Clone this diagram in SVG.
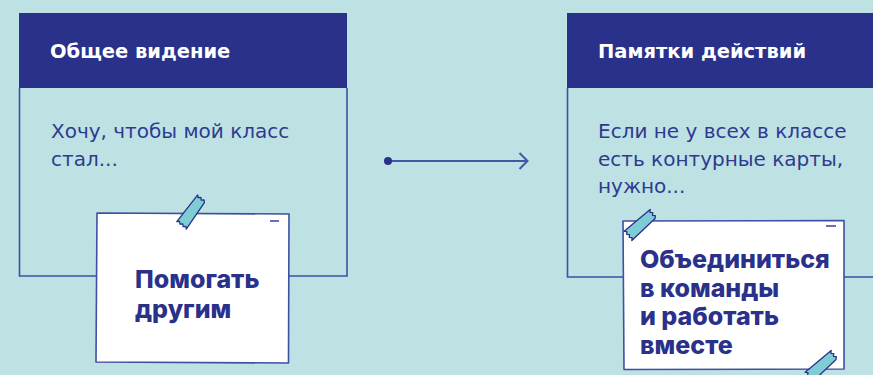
<svg xmlns="http://www.w3.org/2000/svg" width="873" height="375" viewBox="0 0 873 375">
<defs>
<style>
.hdr{fill:#29318A}
.frame{fill:none;stroke:#3F4FA3;stroke-width:1.6}
.title{font-family:"DejaVu Sans",sans-serif;font-weight:bold;font-size:19.5px;fill:#ffffff}
.body{font-family:"DejaVu Sans",sans-serif;font-size:20px;fill:#2E3A8F}
.note{fill:#ffffff;stroke:#3F4FA3;stroke-width:1.6;stroke-linejoin:round}
.ntext{font-family:Inter,"Open Sans",sans-serif;font-weight:800;font-size:25px;fill:#29318A}
.tape{fill:#7FCDD4;stroke:#29318A;stroke-width:1.3;stroke-linejoin:round}
.dash{stroke:#3F4FA3;stroke-width:1.6}
.conn{stroke:#4556A8;stroke-width:2;fill:none}
</style>
<path id="tapeShape" d="M-17,-6 L17,-6 l-2,2 l2,2 l-2,2 l2,2 l-2,2 L-17,6 l2,-2 l-2,-2 l2,-2 l-2,-2 l2,-2 Z"/>
</defs>
<rect width="873" height="375" fill="#BEE1E4"/>

<g id="node-vision">
<rect class="hdr" x="19" y="13" width="328" height="75"/>
<text class="title" x="50" y="58">Общее видение</text>
<path class="frame" d="M19.5,88 V276 H347 V88"/>
<text class="body" x="51" y="138">Хочу, чтобы мой класс</text>
<text class="body" x="51" y="166">стал...</text>
</g>

<g id="node-note-help">
<path class="note" d="M97,213 L289,214 L288.5,363 L96,362 Z"/>
<line class="dash" x1="270" y1="221" x2="279" y2="221"/>
<use href="#tapeShape" class="tape" transform="translate(192,212) rotate(-52)"/>
<text class="ntext" x="135" y="288">Помогать</text>
<text class="ntext" x="135" y="318">другим</text>
</g>

<g id="node-actions">
<rect class="hdr" x="567" y="13" width="306" height="75"/>
<text class="title" x="598" y="58">Памятки действий</text>
<path class="frame" d="M567.5,88 V277 H873"/>
<text class="body" x="598" y="138">Если не у всех в классе</text>
<text class="body" x="598" y="166">есть контурные карты,</text>
<text class="body" x="598" y="193">нужно...</text>
</g>

<g id="node-note-unite">
<path class="note" d="M623,221 L844,220.5 L844,369 L624,369.5 Z"/>
<line class="dash" x1="826" y1="226" x2="836" y2="226"/>
<use href="#tapeShape" class="tape" transform="translate(641,225) rotate(-40)"/>
<use href="#tapeShape" class="tape" transform="translate(822,366) rotate(-40)"/>
<text class="ntext" x="640" y="268">Объединиться</text>
<text class="ntext" x="640" y="297">в команды</text>
<text class="ntext" x="640" y="325">и работать</text>
<text class="ntext" x="640" y="354">вместе</text>
</g>

<g id="connectors">
<line class="conn" x1="388" y1="161" x2="527" y2="161"/>
<polyline class="conn" points="519.5,153 527.5,161 519.5,169"/>
<circle cx="388" cy="161" r="4" fill="#29318A"/>
</g>
</svg>
